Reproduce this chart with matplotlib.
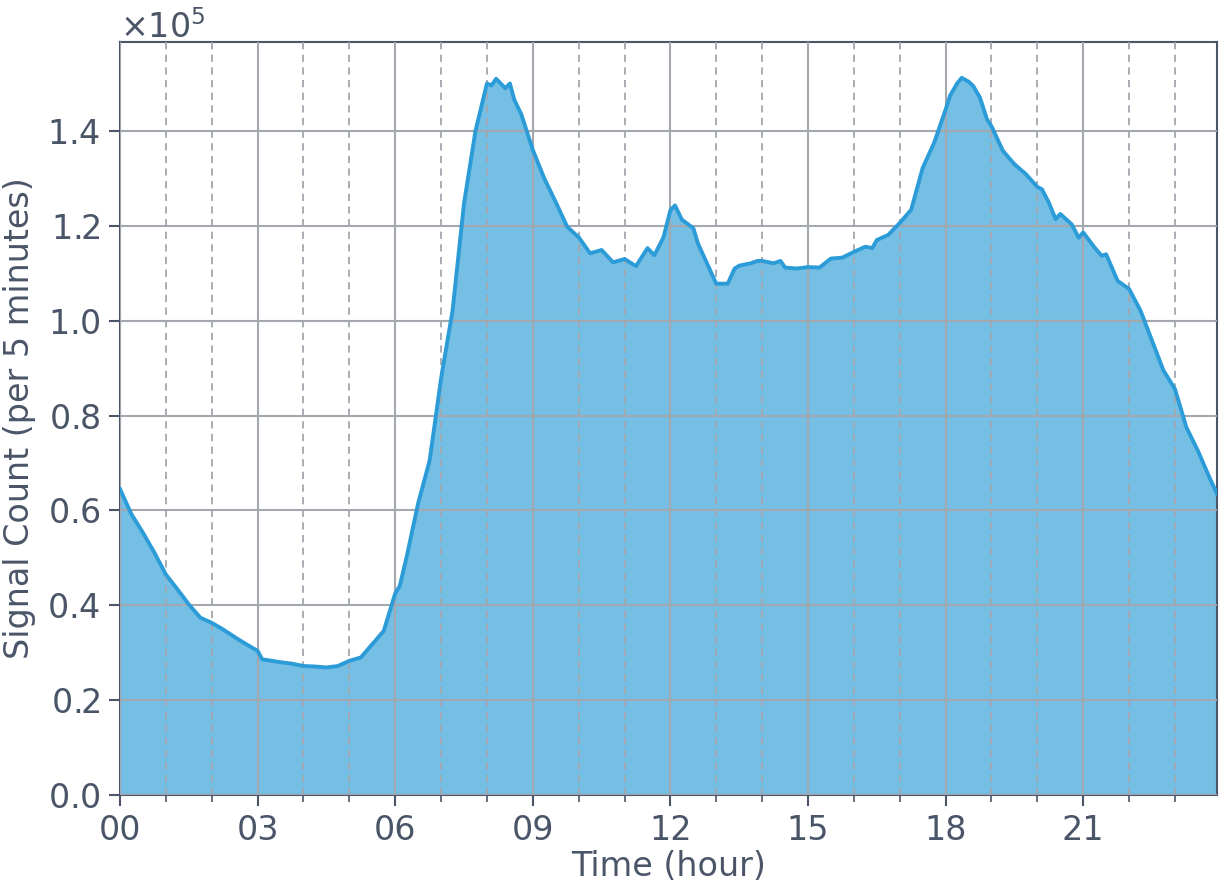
import numpy as np
import matplotlib
matplotlib.use("Agg")
import matplotlib.pyplot as plt
from matplotlib.ticker import MultipleLocator, ScalarFormatter, FuncFormatter

# signal counts per 5 minutes (hour of day, count)
hours = [0.0, 0.25, 0.5, 0.75, 1.0, 1.25, 1.5, 1.75, 2.0, 2.25, 2.5, 2.75,
         3.0, 3.1, 3.25, 3.5, 3.75, 4.0, 4.25, 4.5, 4.75, 5.0, 5.25, 5.5,
         5.75, 6.0, 6.1, 6.25, 6.5, 6.75, 7.0, 7.25, 7.5, 7.75, 8.0, 8.1,
         8.2, 8.4, 8.5, 8.6, 8.75, 9.0, 9.25, 9.5, 9.75, 10.0, 10.25, 10.5,
         10.75, 11.0, 11.25, 11.5, 11.65, 11.85, 12.0, 12.1, 12.25, 12.5, 12.6,
         12.75, 13.0, 13.25, 13.4, 13.5, 13.75, 13.9, 14.0, 14.25, 14.4, 14.5,
         14.75, 15.0, 15.25, 15.5, 15.75, 16.0, 16.25, 16.4, 16.5, 16.75, 17.0,
         17.25, 17.5, 17.75, 18.0, 18.1, 18.25, 18.35, 18.5, 18.6, 18.75, 18.9,
         19.0, 19.25, 19.5, 19.75, 20.0, 20.1, 20.25, 20.4, 20.5, 20.75, 20.9,
         21.0, 21.25, 21.4, 21.5, 21.75, 22.0, 22.25, 22.5, 22.75, 23.0, 23.25,
         23.5, 23.75, 23.9167]
counts = [64500, 59200, 55300, 51100, 46500, 43400, 40200, 37400, 36300, 34900,
          33300, 31800, 30400, 28600, 28400, 28000, 27700, 27200, 27100, 26900,
          27200, 28300, 29000, 31800, 34600, 42500, 44100, 50200, 61500, 70500,
          87800, 102100, 124700, 140000, 150000, 149600, 151000, 149000, 150000,
          146500, 143500, 136000, 130000, 125000, 119800, 117600, 114200, 114900,
          112300, 113000, 111500, 115300, 113800, 117600, 123300, 124300, 121300,
          119500, 116300, 113100, 107800, 107800, 111000, 111600, 112100, 112600,
          112600, 112100, 112600, 111200, 111000, 111300, 111200, 113100, 113300,
          114500, 115600, 115300, 117000, 118100, 120600, 123400, 132200, 137500,
          144500, 147500, 150000, 151200, 150400, 149500, 147000, 142500, 141000,
          135800, 133000, 130900, 128200, 127700, 124900, 121400, 122500, 120300,
          117500, 118600, 115400, 113700, 114000, 108400, 106700, 102100, 95800,
          89500, 85600, 77500, 72600, 67000, 63500]

ink = "#4a5568"
grid_c = "#a3a7ae"

fig = plt.figure(figsize=(12.22, 8.91), dpi=100)
ax = fig.add_axes([0.0982, 0.1077, 0.8977, 0.8452])

ax.fill_between(hours, counts, 0, color="#75bee4", zorder=1, linewidth=0)
ax.plot(hours, counts, color="#2b9cd8", linewidth=2.8, zorder=3,
        solid_joinstyle="round")

ax.set_xlim(0, hours[-1])
ax.set_ylim(0, max(counts) * 1.05)

ax.xaxis.set_major_locator(MultipleLocator(3))
ax.xaxis.set_minor_locator(MultipleLocator(1))
ax.xaxis.set_major_formatter(FuncFormatter(lambda v, p: "%02d" % int(round(v))))
ax.yaxis.set_major_locator(MultipleLocator(20000))

fmt = ScalarFormatter(useMathText=True)
fmt.set_powerlimits((0, 0))
ax.yaxis.set_major_formatter(fmt)
ax.yaxis.get_offset_text().set_fontsize(24)
ax.yaxis.get_offset_text().set_color(ink)

ax.set_axisbelow(False)
ax.grid(which="major", axis="both", color=grid_c, linewidth=1.5, linestyle="-", zorder=2)
ax.grid(which="minor", axis="x", color=grid_c, linewidth=1.3, linestyle=(0, (4, 3)), zorder=2)

ax.tick_params(which="major", direction="out", length=8, width=1.5, colors=ink,
               labelsize=24, pad=6)
ax.tick_params(which="minor", direction="out", length=5, width=1.2, colors=ink)
ax.tick_params(axis="y", which="minor", length=0)

for s in ax.spines.values():
    s.set_color(ink)
    s.set_linewidth(1.5)

ax.set_xlabel("Time (hour)", fontsize=24, color=ink, labelpad=2)
ax.set_ylabel("Signal Count (per 5 minutes)", fontsize=24, color=ink, labelpad=8)

fig.savefig("out.png", dpi=100)
